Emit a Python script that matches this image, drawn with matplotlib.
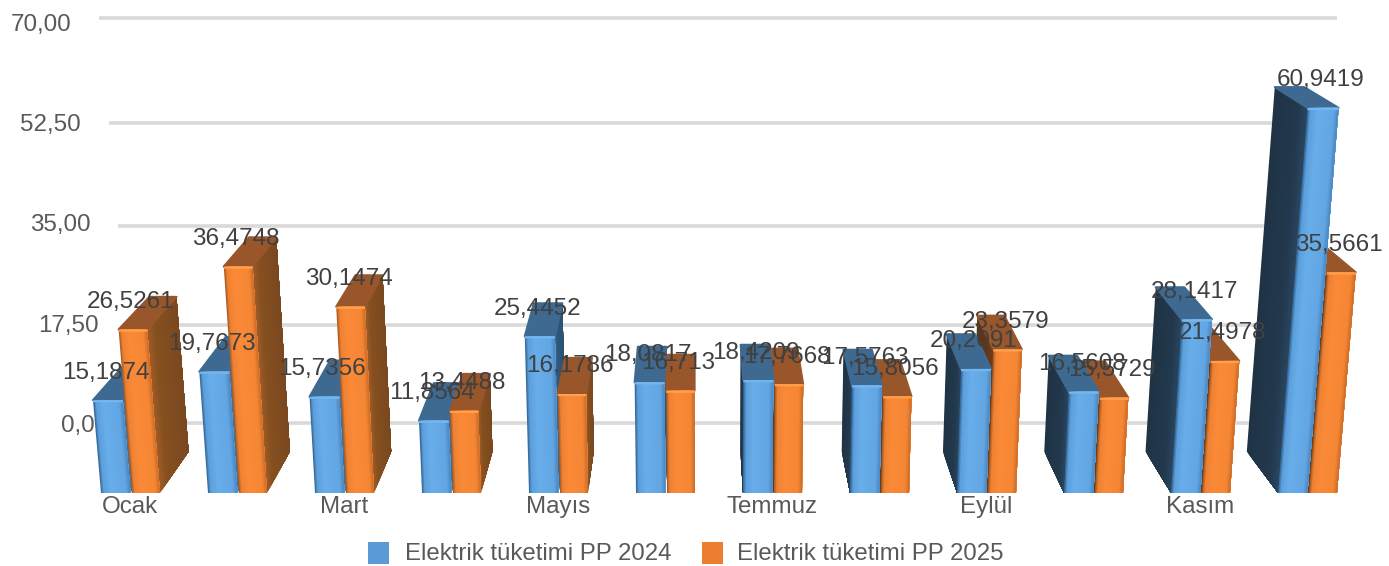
# 3D-look clustered bars, drawn with a small hand made perspective projection
import matplotlib
matplotlib.use('Agg')
import matplotlib.pyplot as plt
from matplotlib.collections import PolyCollection
from matplotlib.patches import Polygon, Rectangle
import numpy as np

plt.rcParams['font.family'] = ['Liberation Sans', 'DejaVu Sans']

# data
months = ['Ocak', 'Şubat', 'Mart', 'Nisan', 'Mayıs', 'Haziran', 'Temmuz', 'Ağustos',
          'Eylül', 'Ekim', 'Kasım', 'Aralık']
values_2024 = [15.1874, 19.7673, 15.7356, 11.8564, 25.4452, 18.0817,
               18.4209, 17.5763, 20.2091, 16.5608, 28.1417, 60.9419]
values_2025 = [26.5261, 36.4748, 30.1474, 13.4488, 16.1786, 16.713,
               17.7668, 15.8056, 23.3579, 15.5729, 21.4978, 35.5661]
labels_2024 = ['15,1874', '19,7673', '15,7356', '11,8564', '25,4452', '18,0817',
               '18,4209', '17,5763', '20,2091', '16,5608', '28,1417', '60,9419']
labels_2025 = ['26,5261', '36,4748', '30,1474', '13,4488', '16,1786', '16,713',
               '17,7668', '15,8056', '23,3579', '15,5729', '21,4978', '35,5661']
y_ticks = [0, 17.5, 35, 52.5, 70]
y_tick_labels = ['0,00', '17,50', '35,00', '52,50', '70,00']
series_names = ['Elektrik tüketimi PP 2024', 'Elektrik tüketimi PP 2025']

# camera, in pixels of the 1389x566 picture
base_y = 493
k_y = 6.05
curve = 0.0007
vert_vp = (725, 7700)
depth_vp = (695, -280)
bar_depth = 0.0535
wall_depth = 0.0906


def project(x, v, d=0.0):
    yf = base_y - k_y * v / (1 - curve * v)
    xf = vert_vp[0] + (x - vert_vp[0]) * (vert_vp[1] - yf) / (vert_vp[1] - base_y)
    return np.array([xf + (depth_vp[0] - xf) * d, yf + (depth_vp[1] - yf) * d])


def hexrgb(c):
    return np.array(matplotlib.colors.to_rgb(c))


def shaded_quad(ax, a, b, c, d, stops, colors, z, n=24):
    # a,b bottom edge, d,c top edge, gradient runs a->b
    # every strip runs on to the far edge so there are no seams between them
    polys, cols = [], []
    rgb = np.array([hexrgb(col) for col in colors])
    for j in range(n):
        t0 = j / n
        polys.append([a + (b - a) * t0, b, c, d + (c - d) * t0])
        tm = (j + 0.5) / n
        cols.append([np.interp(tm, stops, rgb[:, m]) for m in range(3)])
    ax.add_collection(PolyCollection(polys, facecolors=cols, edgecolors='none', zorder=z))


BLUE = {'front': ['#2f5f8c', '#5b9fdc', '#68aeea', '#62a6e4', '#4c86bd'],
        'top': '#3e6a92', 'topband': '#74b6ee',
        'right': ['#44749e', '#30587c', '#2b5274'], 'left': ['#1f3345', '#22384c', '#2a4660']}
ORANGE = {'front': ['#9c5522', '#ee8232', '#fb8a38', '#f58634', '#c96c28'],
          'top': '#98562a', 'topband': '#ffa04c',
          'right': ['#a05c28', '#86501f', '#7a4820'], 'left': ['#5a3214', '#643818', '#6e3e18']}


def draw_bar(ax, x0, x1, v, style, z):
    fl, fr = project(x0, 0), project(x1, 0)
    tl, tr = project(x0, v), project(x1, v)
    bl, br = project(x0, 0, bar_depth), project(x1, 0, bar_depth)
    btl, btr = project(x0, v, bar_depth), project(x1, v, bar_depth)
    if fr[0] < depth_vp[0]:
        shaded_quad(ax, fr, br, btr, tr, [0, 0.25, 1], style['right'], z)
    if fl[0] > depth_vp[0]:
        shaded_quad(ax, bl, fl, tl, btl, [0, 0.7, 1], style['left'], z)
    # thick round joins give the soft corners of the top face
    ax.add_patch(Polygon([tl, tr, btr, btl], closed=True, fc=style['top'], ec=style['top'], lw=1.5,
                         joinstyle='round', zorder=z))
    shaded_quad(ax, fl, fr, tr, tl, [0, 0.1, 0.35, 0.85, 1], style['front'], z + 0.1)
    ax.add_patch(Polygon([tl, tr, project(x1, v - 0.35), project(x0, v - 0.35)], closed=True,
                         fc=style['topband'], ec='none', zorder=z + 0.2))


fig = plt.figure(figsize=(13.89, 5.66), dpi=100)
ax = fig.add_axes([0, 0, 1, 1])
ax.set_xlim(0, 1389)
ax.set_ylim(566, 0)
ax.axis('off')

# back wall gridlines and value axis
wall_left, wall_right = 80, 1361.6
tick_label_top, tick_label_step = 426, 5.73
for tick, lab in zip(y_ticks, y_tick_labels):
    p0 = project(wall_left, tick, wall_depth)
    p1 = project(wall_right, tick, wall_depth)
    ax.plot([p0[0], p1[0]], [p0[1], p1[1]], color='#d9d9d9', lw=2.6, solid_capstyle='butt', zorder=1)
    ax.text(p0[0] - 28, tick_label_top - tick_label_step * tick, lab, ha='right', va='center',
            fontsize=17.4, color='#595959', zorder=1.5)

# bars, painted from the outside toward the depth vanishing point
group_step, group_x0 = 107, 101
order = list(range(6)) + list(range(11, 5, -1))
for n, i in enumerate(order):
    x = group_x0 + group_step * i
    z = 2 + n
    blue = (x, x + 29.5, values_2024[i], BLUE)
    orange = (x + 31, x + 59, values_2025[i], ORANGE)
    pair = [blue, orange] if x + 30 < depth_vp[0] else [orange, blue]
    for k, b in enumerate(pair):
        draw_bar(ax, b[0], b[1], b[2], b[3], z + k * 0.4)

# value labels
for i in range(12):
    x = group_x0 + group_step * i
    for (xm, v, lab) in [(x + 14.7, values_2024[i], labels_2024[i]), (x + 45, values_2025[i], labels_2025[i])]:
        p = project(xm, v)
        ax.text(p[0] - 2, p[1] - 27.5, lab, ha='center', va='center', fontsize=17.5, color='#404040', zorder=50)

# category labels, every second month
for i in range(0, 12, 2):
    ax.text(group_x0 + group_step * i + 29, 507, months[i], ha='center', va='center',
            fontsize=17.4, color='#595959', zorder=50)

# legend
ax.add_patch(Rectangle((368, 542), 21, 22, fc='#5b9bd5', ec='none'))
ax.add_patch(Rectangle((702, 542), 21, 22, fc='#ed7d31', ec='none'))
ax.text(405, 553.5, series_names[0], ha='left', va='center', fontsize=17.3, color='#595959')
ax.text(737, 553.5, series_names[1], ha='left', va='center', fontsize=17.3, color='#595959')

fig.savefig('out.png', dpi=100)
